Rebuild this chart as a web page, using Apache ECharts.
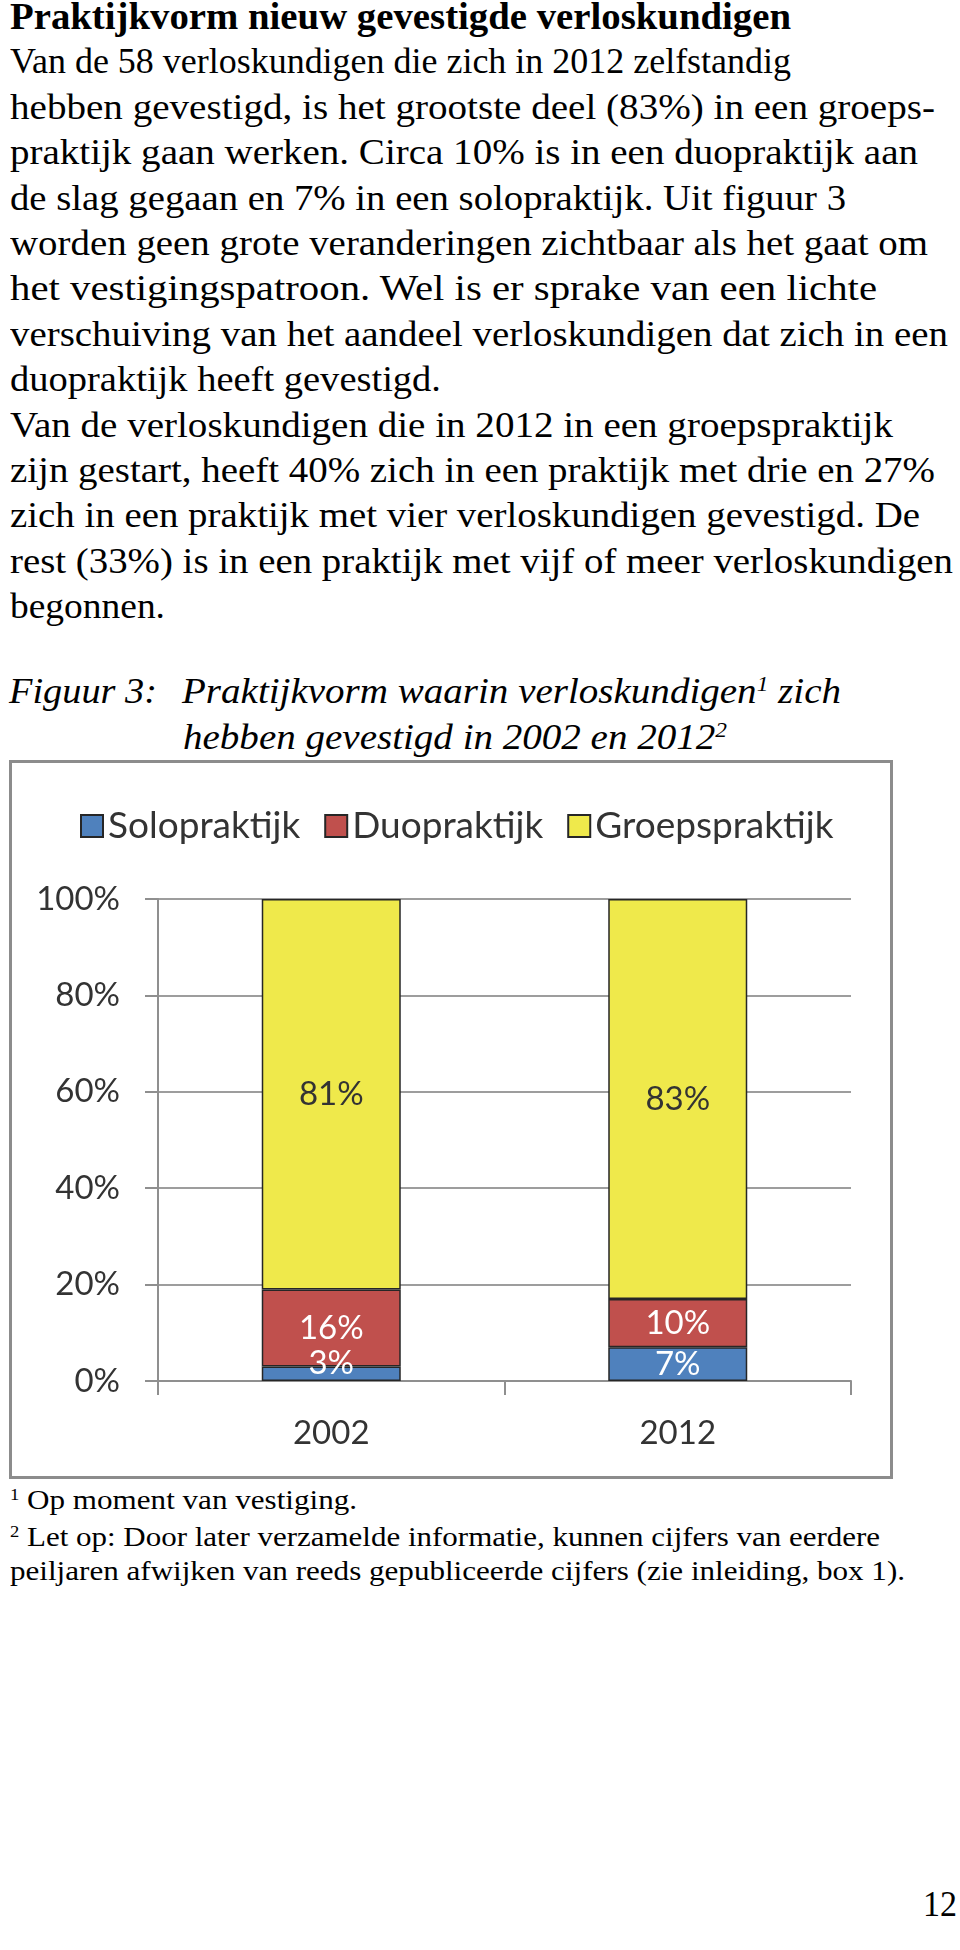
<!DOCTYPE html>
<html>
<head>
<meta charset="utf-8">
<script src="https://cdn.jsdelivr.net/npm/echarts/dist/echarts.min.js"></script>
<style>
  html, body { margin: 0; padding: 0; background: #fff; }
  #page { position: relative; width: 960px; height: 1950px; overflow: hidden; background: #fff; }
  .t { position: absolute; white-space: nowrap; font-family: 'Liberation Serif', 'Times New Roman', serif;
       color: #000; line-height: normal; transform-origin: 0 0; }
  .sup { font-size: 0.6em; vertical-align: 0.55em; line-height: 0; }
  #chart { position: absolute; left: 9px; top: 760px; width: 884px; height: 719px; }
  #frame { position: absolute; left: 9px; top: 760px; width: 884px; height: 719px; box-sizing: border-box;
           border: 3px solid #8c8c8c; pointer-events: none; }
</style>
</head>
<body>
<div id="page">
  <div id="chart"></div>
  <div id="frame"></div>
</div>
<script>
// ---------- chart data ----------
const categories = ['2002', '2012'];
const seriesNames = ['Solopraktijk', 'Duopraktijk', 'Groepspraktijk'];
const soloValues = [3, 7];
const duoValues = [16, 10];
const groepValues = [81, 83];
const yTickValues = [0, 20, 40, 60, 80, 100];

// ---------- page text (layout) ----------
const LS = 45.4, B0 = 72.5;
const textLines = [
  { html: 'Praktijkvorm nieuw gevestigde verloskundigen', x: 10, base: 28, w: 781, size: 38, weight: 'bold' },
  { html: 'Van de 58 verloskundigen die zich in 2012 zelfstandig', x: 10, base: B0, w: 781, size: 36 },
  { html: 'hebben gevestigd, is het grootste deel (83%) in een groeps-', x: 10, base: B0 + LS, w: 925, size: 36 },
  { html: 'praktijk gaan werken. Circa 10% is in een duopraktijk aan', x: 10, base: B0 + 2 * LS, w: 908, size: 36 },
  { html: 'de slag gegaan en 7% in een solopraktijk. Uit figuur 3', x: 10, base: B0 + 3 * LS, w: 836, size: 36 },
  { html: 'worden geen grote veranderingen zichtbaar als het gaat om', x: 10, base: B0 + 4 * LS, w: 918, size: 36 },
  { html: 'het vestigingspatroon. Wel is er sprake van een lichte', x: 10, base: B0 + 5 * LS, w: 867, size: 36 },
  { html: 'verschuiving van het aandeel verloskundigen dat zich in een', x: 10, base: B0 + 6 * LS, w: 938, size: 36 },
  { html: 'duopraktijk heeft gevestigd.', x: 10, base: B0 + 7 * LS, w: 431, size: 36 },
  { html: 'Van de verloskundigen die in 2012 in een groepspraktijk', x: 10, base: B0 + 8 * LS, w: 883, size: 36 },
  { html: 'zijn gestart, heeft 40% zich in een praktijk met drie en 27%', x: 10, base: B0 + 9 * LS, w: 925, size: 36 },
  { html: 'zich in een praktijk met vier verloskundigen gevestigd. De', x: 10, base: B0 + 10 * LS, w: 910, size: 36 },
  { html: 'rest (33%) is in een praktijk met vijf of meer verloskundigen', x: 10, base: B0 + 11 * LS, w: 943, size: 36 },
  { html: 'begonnen.', x: 10, base: B0 + 12 * LS, w: 155, size: 36 },
  { html: 'Figuur 3:', x: 9, base: 703, w: 148, size: 35, style: 'italic' },
  { html: 'Praktijkvorm waarin verloskundigen<span class="sup">1</span> zich', x: 182, base: 703, w: 659, size: 35, style: 'italic' },
  { html: 'hebben gevestigd in 2002 en 2012<span class="sup">2</span>', x: 183, base: 749, w: 544, size: 35, style: 'italic' },
  { html: '<span class="sup">1</span> Op moment van vestiging.', x: 10, base: 1509, w: 347, size: 28 },
  { html: '<span class="sup">2</span> Let op: Door later verzamelde informatie, kunnen cijfers van eerdere', x: 10, base: 1546, w: 870, size: 28 },
  { html: 'peiljaren afwijken van reeds gepubliceerde cijfers (zie inleiding, box 1).', x: 10, base: 1580, w: 895, size: 28 },
  { html: '12', x: 923, base: 1915, w: 34, size: 36 }
];

const page = document.getElementById('page');
textLines.forEach(function (l) {
  const d = document.createElement('div');
  d.className = 't';
  d.innerHTML = l.html;
  d.style.fontSize = l.size + 'px';
  d.style.left = l.x + 'px';
  d.style.top = (l.base - 0.891 * l.size) + 'px';
  if (l.weight) d.style.fontWeight = l.weight;
  if (l.style) d.style.fontStyle = l.style;
  page.appendChild(d);
  const nat = d.getBoundingClientRect().width;
  if (nat > 0) d.style.transform = 'scaleX(' + (l.w / nat) + ')';
});

// ---------- chart ----------
const COLORS = ['#4F81BD', '#C0504D', '#EFE94B'];
const LABEL_COLORS = ['#ffffff', '#ffffff', '#333333'];
const valueSets = [soloValues, duoValues, groepValues];
const axisGray = '#8f8f8f';

const chart = echarts.init(document.getElementById('chart'), null, { renderer: 'canvas' });
const option = {
  animation: false,
  textStyle: { fontFamily: 'Lato' },
  legend: {
    data: seriesNames,
    left: 66, top: 42,
    icon: 'rect', itemWidth: 22, itemHeight: 22, itemGap: 24,
    textStyle: { fontFamily: 'Lato', fontSize: 37, color: '#333', lineHeight: 38 }
  },
  grid: { left: 149, right: 42, top: 139, bottom: 98 },
  xAxis: {
    type: 'category',
    data: categories,
    axisLine: { lineStyle: { color: axisGray, width: 2 } },
    axisTick: { show: true, length: 14, lineStyle: { color: axisGray, width: 2 } },
    axisLabel: { fontFamily: 'Lato', fontSize: 33, color: '#333', margin: 36, lineHeight: 33 }
  },
  yAxis: {
    type: 'value',
    min: yTickValues[0], max: yTickValues[yTickValues.length - 1],
    interval: yTickValues[1] - yTickValues[0],
    axisLine: { show: true, lineStyle: { color: axisGray, width: 2 } },
    axisTick: { show: true, length: 13, lineStyle: { color: axisGray, width: 2 } },
    axisLabel: { formatter: '{value}%', fontFamily: 'Lato', fontSize: 33, color: '#333', margin: 38 },
    splitLine: { lineStyle: { color: '#9d9d9d', width: 2 } }
  },
  series: seriesNames.map(function (name, i) {
    return {
      name: name,
      type: 'bar',
      stack: 'total',
      barWidth: 139,
      itemStyle: { color: COLORS[i], borderColor: '#262626', borderWidth: 1.5 },
      label: {
        show: true, position: 'inside', formatter: '{c}%',
        fontFamily: 'Lato', fontSize: 33, color: LABEL_COLORS[i],
        textBorderWidth: 0
      },
      data: valueSets[i].map(function (v) {
        return v < 5 ? { value: v, label: { offset: [0, -10] } } : v;
      })
    };
  })
};
chart.setOption(option);
</script>
</body>
</html>
